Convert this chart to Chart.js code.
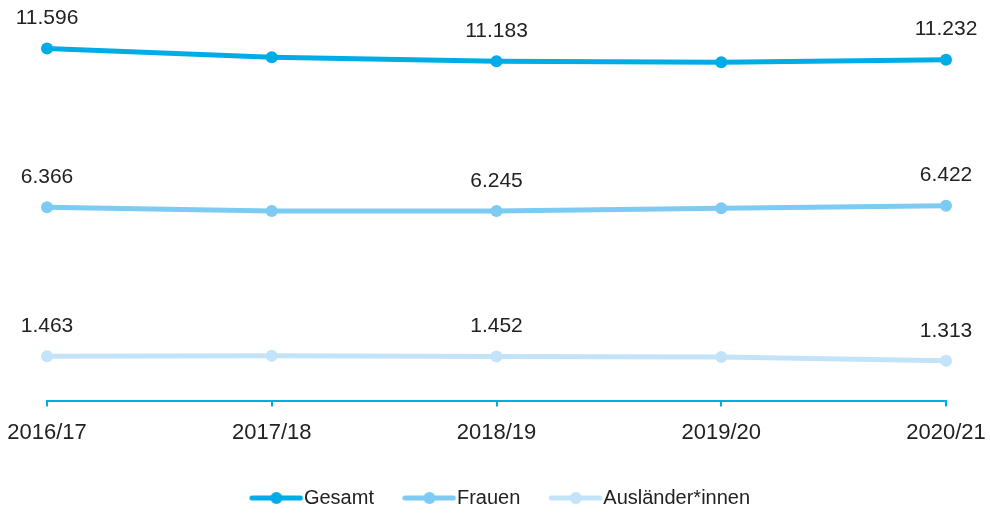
<!DOCTYPE html>
<html>
<head>
<meta charset="utf-8">
<script src="https://cdn.jsdelivr.net/npm/chart.js@4.4.1/dist/chart.umd.min.js"></script>
<style>
  html, body { margin: 0; padding: 0; background: #fff; }
  #wrap { width: 990px; height: 513px; }
</style>
</head>
<body>
<div id="wrap"><canvas id="chart"></canvas></div>
<script>
let years = ["2016/17", "2017/18", "2018/19", "2019/20", "2020/21"];
let gesamt = [11596, 11310, 11183, 11150, 11232];
let frauen = [6366, 6248, 6245, 6340, 6422];
let auslaender = [1463, 1480, 1452, 1440, 1313];
let labelIndexes = [0, 2, 4];

let colors = ["#00ace6", "#7dcaf2", "#c3e4f8"];

function formatDe(v) {
  return String(v).replace(/\B(?=(\d{3})+(?!\d))/g, ".");
}

// line + dot image used as legend symbol
function legendSymbol(color) {
  let c = document.createElement("canvas");
  c.width = 72;
  c.height = 14;
  let ctx = c.getContext("2d");
  ctx.strokeStyle = color;
  ctx.lineWidth = 5;
  ctx.lineCap = "round";
  ctx.beginPath();
  ctx.moveTo(19.5, 7);
  ctx.lineTo(68, 7);
  ctx.stroke();
  ctx.fillStyle = color;
  ctx.beginPath();
  ctx.arc(44, 7, 6, 0, Math.PI * 2);
  ctx.fill();
  return c;
}

const valueLabels = {
  id: "valueLabels",
  afterDatasetsDraw(chart) {
    const ctx = chart.ctx;
    ctx.save();
    ctx.font = '21px "Liberation Sans"';
    ctx.fillStyle = "#222";
    ctx.textAlign = "center";
    ctx.textBaseline = "middle";
    chart.data.datasets.forEach((ds, i) => {
      const meta = chart.getDatasetMeta(i);
      labelIndexes.forEach((j) => {
        const p = meta.data[j];
        ctx.fillText(formatDe(ds.data[j]), p.x, p.y - 30);
      });
    });
    ctx.restore();
  },
};

function makeSet(label, data, color) {
  return {
    label: label,
    data: data,
    borderColor: color,
    backgroundColor: color,
    borderWidth: 5,
    pointRadius: 6,
    pointHoverRadius: 6,
    pointBorderWidth: 0,
    tension: 0,
    clip: false,
  };
}

new Chart("chart", {
  type: "line",
  data: {
    labels: years,
    datasets: [
      makeSet("Gesamt", gesamt, colors[0]),
      makeSet("Frauen", frauen, colors[1]),
      makeSet("Ausländer*innen", auslaender, colors[2]),
    ],
  },
  options: {
    responsive: true,
    maintainAspectRatio: false,
    animation: false,
    layout: { padding: { left: 47, right: 44, top: 5, bottom: -5 } },
    scales: {
      x: {
        offset: false,
        grid: {
          display: true,
          drawOnChartArea: false,
          drawTicks: true,
          tickLength: 6,
          color: colors[0],
          lineWidth: 2,
        },
        border: { display: true, color: colors[0], width: 2 },
        ticks: {
          color: "#222",
          font: { family: "Liberation Sans", size: 22 },
          padding: 13,
          maxRotation: 0,
        },
        afterFit(scale) {
          scale.height += 7;
          scale.paddingLeft = 0;
          scale.paddingRight = 0;
        },
      },
      y: {
        display: false,
        min: 0,
        max: 13000,
      },
    },
    plugins: {
      tooltip: { enabled: false },
      legend: {
        position: "bottom",
        labels: {
          usePointStyle: true,
          pointStyleWidth: 51,
          color: "#222",
          font: { family: "Liberation Sans", size: 20 },
          padding: 22,
          generateLabels(chart) {
            let items = Chart.defaults.plugins.legend.labels.generateLabels(chart);
            items.forEach((it, i) => {
              it.pointStyle = legendSymbol(colors[i]);
            });
            return items;
          },
        },
      },
    },
  },
  plugins: [valueLabels],
});
</script>
</body>
</html>
